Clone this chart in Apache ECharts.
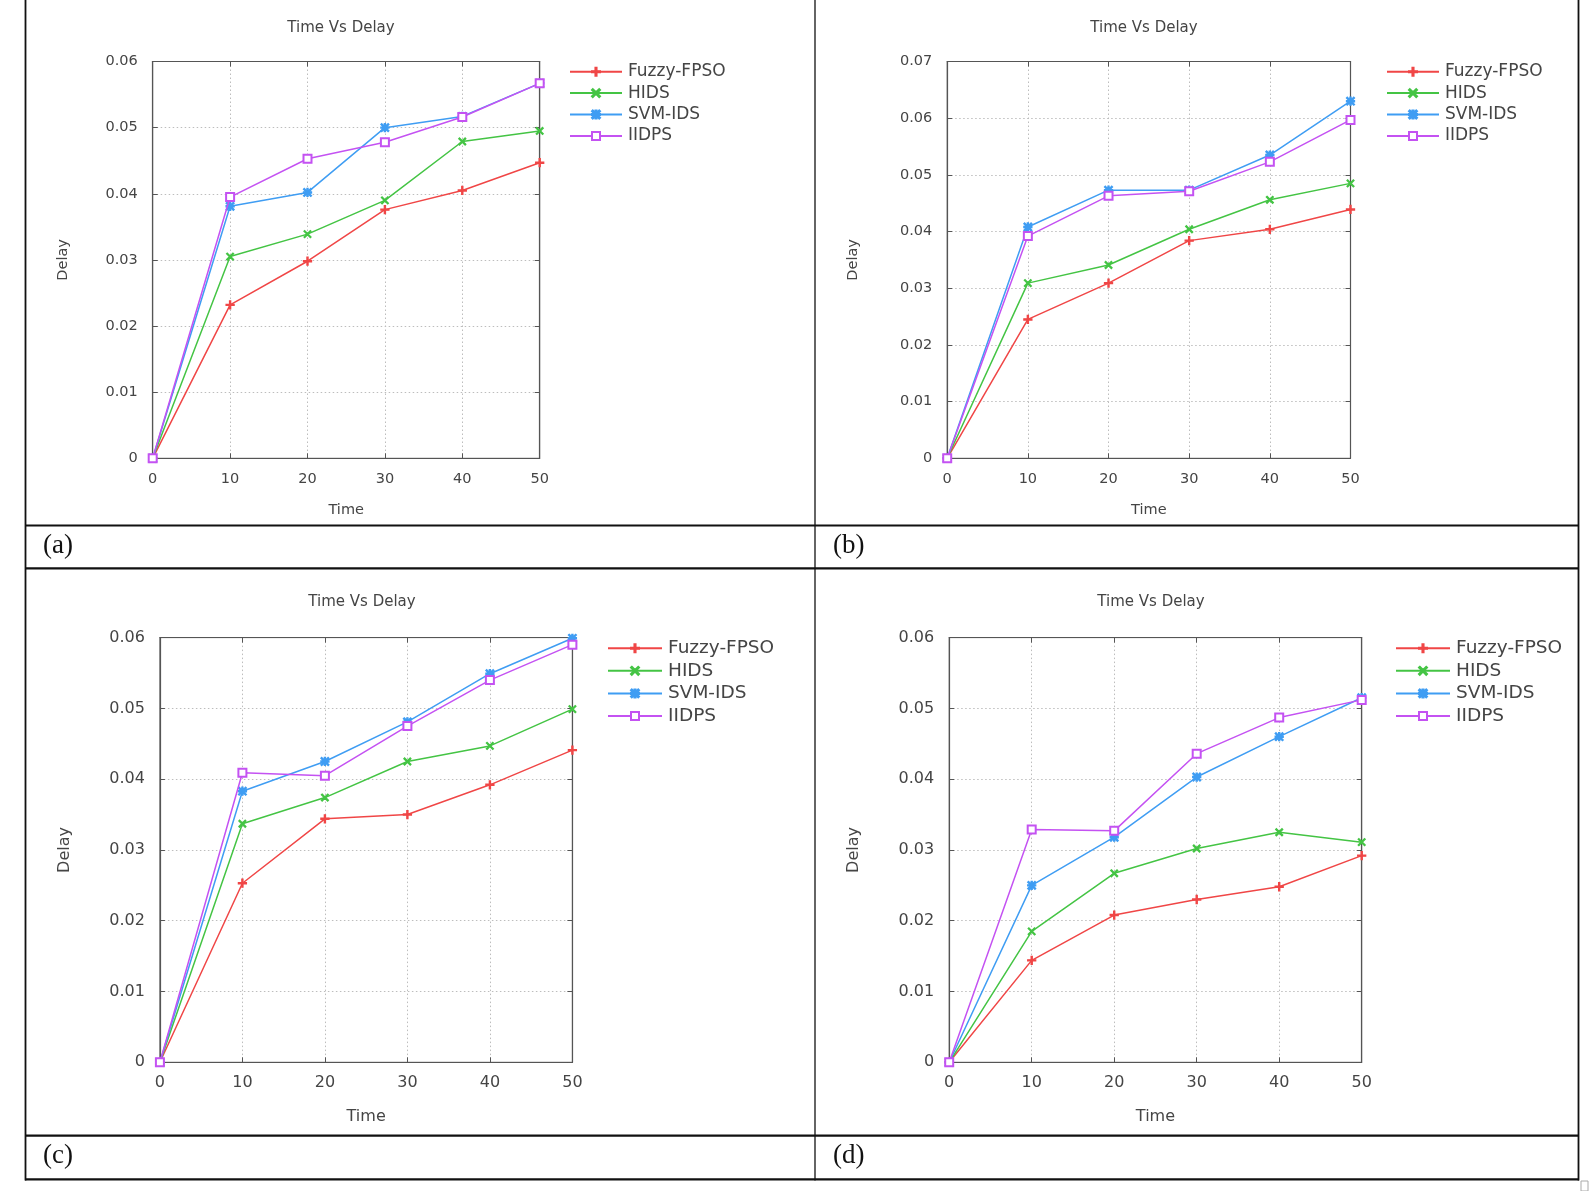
<!DOCTYPE html>
<html>
<head>
<meta charset="utf-8">
<script src="https://cdn.jsdelivr.net/npm/echarts@6/dist/echarts.min.js"></script>
<style>
html,body{margin:0;padding:0;background:#fff;}
#chart{width:1596px;height:1191px;}
</style>
</head>
<body>
<div id="chart"></div>
<script>
// ---- data ----
const times = [0, 10, 20, 30, 40, 50];
const seriesNames = ['Fuzzy-FPSO', 'HIDS', 'SVM-IDS', 'IIDPS'];
const panelLabels = ['(a)', '(b)', '(c)', '(d)'];
const panelTitle = 'Time Vs Delay';
const xName = 'Time';
const yName = 'Delay';
const yMaxes = [0.06, 0.07, 0.06, 0.06];

const fuzzyA = [0, 0.0232, 0.0298, 0.0376, 0.0405, 0.0447];
const hidsA  = [0, 0.0305, 0.0339, 0.0390, 0.0479, 0.0495];
const svmA   = [0, 0.0381, 0.0402, 0.0500, 0.0517, 0.0567];
const iidpsA = [0, 0.0395, 0.0453, 0.0478, 0.0516, 0.0567];

const fuzzyB = [0, 0.0245, 0.0309, 0.0384, 0.0404, 0.0439];
const hidsB  = [0, 0.0309, 0.0341, 0.0404, 0.0456, 0.0485];
const svmB   = [0, 0.0408, 0.0473, 0.0473, 0.0535, 0.0630];
const iidpsB = [0, 0.0392, 0.0463, 0.0471, 0.0523, 0.0597];

const fuzzyC = [0, 0.0253, 0.0344, 0.0350, 0.0392, 0.0441];
const hidsC  = [0, 0.0337, 0.0374, 0.0425, 0.0447, 0.0499];
const svmC   = [0, 0.0383, 0.0425, 0.0481, 0.0549, 0.0599];
const iidpsC = [0, 0.0409, 0.0405, 0.0475, 0.0540, 0.0590];

const fuzzyD = [0, 0.0144, 0.0208, 0.0230, 0.0248, 0.0292];
const hidsD  = [0, 0.0185, 0.0267, 0.0302, 0.0325, 0.0311];
const svmD   = [0, 0.0250, 0.0318, 0.0403, 0.0460, 0.0515];
const iidpsD = [0, 0.0329, 0.0327, 0.0436, 0.0487, 0.0512];

const panelData = [
  [fuzzyA, hidsA, svmA, iidpsA],
  [fuzzyB, hidsB, svmB, iidpsB],
  [fuzzyC, hidsC, svmC, iidpsC],
  [fuzzyD, hidsD, svmD, iidpsD]
];

// ---- styles / layout ----
const colors = ['#f04646', '#44c444', '#3f9df3', '#c452f2'];
const plusPath = 'path://M4.3,0L5.7,0L5.7,4.3L10,4.3L10,5.7L5.7,5.7L5.7,10L4.3,10L4.3,5.7L0,5.7L0,4.3L4.3,4.3Z';
const xPath = 'path://M1,0L5,4L9,0L10,1L6,5L10,9L9,10L5,6L1,10L0,9L4,5L0,1Z';
const starPath = 'path://M4.3,0L5.7,0L5.7,4.3L10,4.3L10,5.7L5.7,5.7L5.7,10L4.3,10L4.3,5.7L0,5.7L0,4.3L4.3,4.3Z M1,0L5,4L9,0L10,1L6,5L10,9L9,10L5,6L1,10L0,9L4,5L0,1Z';
const symbols = [plusPath, xPath, starPath, 'emptyRect'];
const symbolSizes = [8, 7, 8, 8];

const grids = [
  {left: 152.7, top: 61.5, width: 387, height: 396.8},
  {left: 947.2, top: 61.5, width: 403.3, height: 396.8},
  {left: 159.9, top: 637.6, width: 412.5, height: 424.7},
  {left: 949.2, top: 637.6, width: 412.5, height: 424.7}
];
const legendPos = [
  {left: 569, top: 63.2, lh: 16, gap: 4.4, w: 52, fs: 17},
  {left: 1386, top: 63.2, lh: 16, gap: 4.4, w: 52, fs: 17},
  {left: 607, top: 638.7, lh: 17, gap: 3.6, w: 54, fs: 18.5},
  {left: 1395, top: 638.7, lh: 17, gap: 3.6, w: 54, fs: 18.5}
];
const axisFont = [14.5, 14.5, 16, 16];
const xNameGap = [44, 44, 47, 47];
const yNameGap = [82, 86, 87, 87];
const titlePos = [[341, 28.5], [1144, 28.5], [362, 602], [1151, 602]];
const labelPos = [[43, 546], [833, 546], [43, 1156], [833, 1156]];
const FONT = '"DejaVu Sans", Verdana, sans-serif';
const TXT = '#454545';

const option = {
  animation: false,
  backgroundColor: '#fff',
  grid: [], xAxis: [], yAxis: [], series: [], legend: [], graphic: []
};

grids.forEach((g, i) => {
  const fs = axisFont[i];
  option.grid.push(Object.assign({show: true, borderColor: '#555', borderWidth: 1, backgroundColor: 'transparent'}, g));
  const tick = {inside: true, length: 5, lineStyle: {color: '#555'}};
  const line = {show: true, onZero: false, lineStyle: {color: '#555', width: 1.2}};
  const label = {color: TXT, fontSize: fs, fontFamily: FONT};
  // bottom x axis
  option.xAxis.push({
    gridIndex: i, type: 'value', min: 0, max: 50, interval: 10, position: 'bottom',
    axisTick: tick, axisLine: line,
    splitLine: {show: true, lineStyle: {color: '#bdbdbd', type: [1.5, 2.5], width: 1}},
    name: xName, nameLocation: 'middle', nameGap: xNameGap[i],
    nameTextStyle: label,
    axisLabel: Object.assign({}, label, {margin: 13})
  });
  // top x axis (ticks only)
  option.xAxis.push({
    gridIndex: i, type: 'value', min: 0, max: 50, interval: 10, position: 'top',
    axisTick: tick, axisLine: line, splitLine: {show: false}, axisLabel: {show: false}
  });
  option.yAxis.push({
    gridIndex: i, type: 'value', min: 0, max: yMaxes[i], interval: 0.01, position: 'left',
    axisTick: tick, axisLine: line,
    splitLine: {show: true, lineStyle: {color: '#bdbdbd', type: [1.5, 2.5], width: 1}},
    name: yName, nameLocation: 'middle', nameGap: yNameGap[i],
    nameTextStyle: label,
    axisLabel: Object.assign({}, label, {margin: 15,
      formatter: v => (v === 0 ? '0' : v.toFixed(2))})
  });
  option.yAxis.push({
    gridIndex: i, type: 'value', min: 0, max: yMaxes[i], interval: 0.01, position: 'right',
    axisTick: tick, axisLine: line, splitLine: {show: false}, axisLabel: {show: false}
  });
  panelData[i].forEach((vals, k) => {
    option.series.push({
      name: seriesNames[k], type: 'line', xAxisIndex: 2 * i, yAxisIndex: 2 * i,
      data: times.map((t, j) => [t, vals[j]]),
      symbol: symbols[k], symbolSize: symbolSizes[k], showSymbol: true,
      lineStyle: {color: colors[k], width: 1.5},
      itemStyle: {color: colors[k], borderColor: colors[k], borderWidth: 1.3},
      z: 2 + k
    });
  });
  const lp = legendPos[i];
  option.legend.push({
    orient: 'vertical', left: lp.left, top: lp.top, itemGap: lp.gap,
    itemWidth: lp.w, itemHeight: 10, padding: 0,
    data: seriesNames.map(n => ({name: n})),
    textStyle: {color: TXT, fontSize: lp.fs, fontFamily: FONT, lineHeight: lp.lh, padding: [0, 0, 0, 1]},
    selectedMode: false
  });
  option.graphic.push({
    type: 'text', x: titlePos[i][0], y: titlePos[i][1], silent: true,
    style: {text: panelTitle, fill: TXT, font: '15px ' + FONT,
      textAlign: 'center', textVerticalAlign: 'middle'}
  });
});

// table frame
function hline(x1, x2, y, w) {
  return {type: 'line', silent: true, shape: {x1: x1, y1: y, x2: x2, y2: y}, style: {stroke: '#111', lineWidth: w || 1.5}};
}
function vline(x, y1, y2, w) {
  return {type: 'line', silent: true, shape: {x1: x, y1: y1, x2: x, y2: y2}, style: {stroke: '#111', lineWidth: w || 1.5}};
}
option.graphic.push(vline(25.5, 0, 1180.5, 1.8));
option.graphic.push(vline(1578.5, 0, 1180.5, 1.8));
option.graphic.push(vline(815, 0, 1180.5, 1.3));
option.graphic.push(hline(25, 1579, 525.5, 2.2));
option.graphic.push(hline(25, 1579, 568.3, 2.2));
option.graphic.push(hline(25, 1579, 1135.6, 2.2));
option.graphic.push(hline(25, 1579, 1179.4, 2.2));
option.graphic.push({type: 'rect', silent: true, shape: {x: 1581, y: 1181, width: 7, height: 10},
  style: {fill: 'none', stroke: '#aaa', lineWidth: 1}});

panelLabels.forEach((t, i) => {
  option.graphic.push({
    type: 'text', x: labelPos[i][0], y: labelPos[i][1], silent: true,
    style: {text: t, fill: '#111', font: '27px "Liberation Serif", "Times New Roman", serif',
      textAlign: 'left', textVerticalAlign: 'middle'}
  });
});

const chart = echarts.init(document.getElementById('chart'), null, {renderer: 'canvas'});
chart.setOption(option);
</script>
</body>
</html>
